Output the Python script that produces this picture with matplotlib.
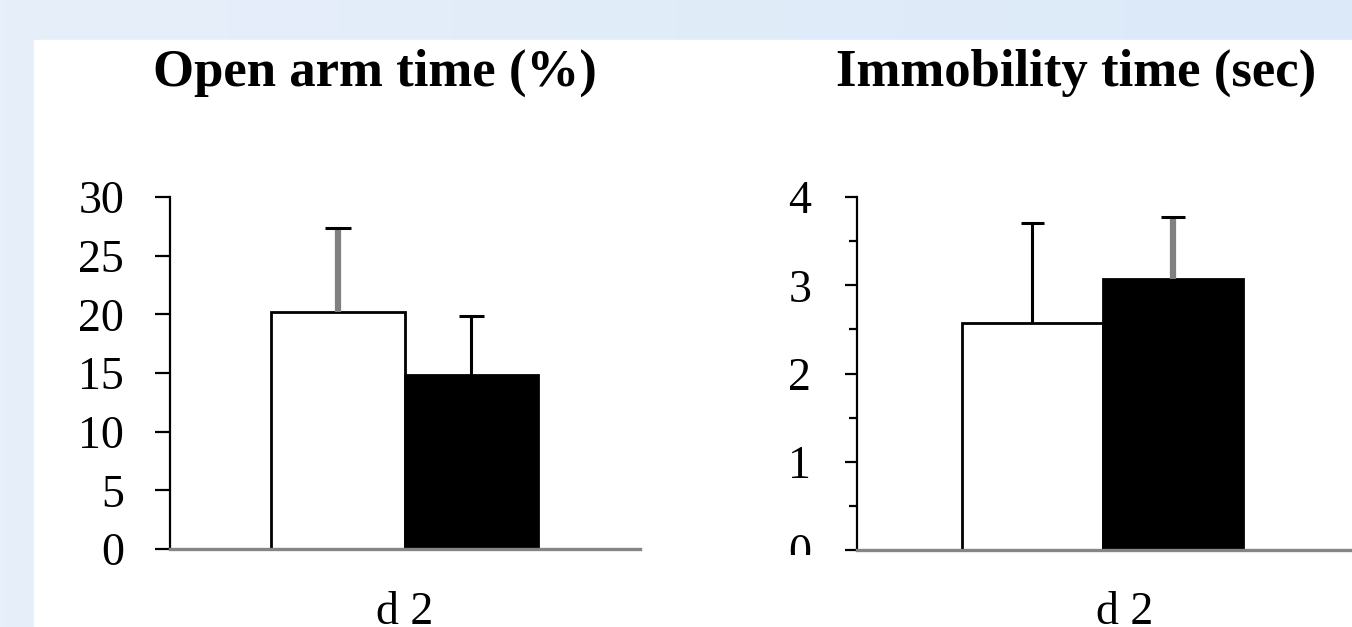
import numpy as np
import matplotlib.pyplot as plt
from matplotlib.patches import Rectangle
from matplotlib.transforms import Bbox

plt.rcParams['font.family'] = ['Liberation Serif', 'DejaVu Serif']

# group means and upper error (SEM) for day 2
groups = ["ctrl", "treated"]
open_arm = [20.2, 14.8]
open_arm_err = [7.2, 5.1]
immob = [2.57, 3.07]
immob_err = [1.14, 0.70]

bar_colors = ["white", "black"]

W, H = 1352, 627
fig = plt.figure(figsize=(W / 100, H / 100), dpi=100)

# pale blue slide background with a white card on top
bg = fig.add_axes([0, 0, 1, 1], zorder=-10)
grad = np.linspace(0, 1, 256)[None, :]
c0 = np.array([231, 239, 250]) / 255
c1 = np.array([219, 233, 248]) / 255
img = c0[None, None, :] * (1 - grad[..., None]) + c1[None, None, :] * grad[..., None]
bg.imshow(img, aspect="auto", extent=[0, 1, 0, 1])
bg.add_patch(Rectangle((34 / W, 0), 1, (H - 40) / H, color="white"))
bg.set_xlim(0, 1)
bg.set_ylim(0, 1)
bg.axis("off")


def px_axes(x0, x1, ytop, ybot):
    return fig.add_axes([x0 / W, (H - ybot) / H, (x1 - x0) / W, (ybot - ytop) / H])


def draw_panel(ax, vals, errs, stem_cols, stem_w, cap_w):
    x = np.arange(len(vals))
    ax.bar(x, vals, width=1.0, color=bar_colors, edgecolor="black", linewidth=2, zorder=2)
    for xi, v, e, sc, sw in zip(x, vals, errs, stem_cols, stem_w):
        ax.vlines(xi, v, v + e, color=sc, linewidth=sw, zorder=3)
        ax.hlines(v + e, xi - cap_w / 2, xi + cap_w / 2, color="black", linewidth=2.2, zorder=4)
    for s in ["top", "right"]:
        ax.spines[s].set_visible(False)
    ax.spines["left"].set_linewidth(1.6)
    ax.spines["bottom"].set_color("#858585")
    ax.spines["bottom"].set_linewidth(2.4)
    ax.set_xticks([])
    ax.tick_params(axis="y", labelsize=33, width=1.6, pad=22)
    ax.set_facecolor("none")


# left panel: open arm time
ax1 = px_axes(170, 640, 197, 549)
draw_panel(ax1, open_arm, open_arm_err, ["#808080", "black"], [4.5, 2.2], 0.19)
ax1.set_xlim(-1.258, 2.262)
ax1.set_ylim(0, 30)
ax1.set_yticks(np.arange(0, 31, 5))
ax1.tick_params(axis="y", length=11)

# right panel: immobility time
ax2 = px_axes(857, 1352, 197, 550)
draw_panel(ax2, immob, immob_err, ["black", "#808080"], [2.2, 4.5], 0.17)
ax2.set_xlim(-1.249, 2.274)
ax2.set_ylim(0, 4)
ax2.set_yticks(np.arange(0, 5, 1))
ax2.set_yticks(np.arange(0.5, 4, 1), minor=True)
ax2.tick_params(axis="y", which="major", length=9, pad=24)
ax2.tick_params(axis="y", which="minor", length=6, width=1.6)

fig.text(375 / W, 1 - 86 / H, "Open arm time (%)", fontsize=38, fontweight="bold",
         ha="center", va="baseline")
fig.text(1076 / W, 1 - 86 / H, "Immobility time (sec)", fontsize=38, fontweight="bold",
         ha="center", va="baseline")
fig.text(405 / W, 1 - 624 / H, "d 2", fontsize=33, ha="center", va="baseline")
fig.text(1125 / W, 1 - 624 / H, "d 2", fontsize=33, ha="center", va="baseline")

# the zero label of the right axis is cut along the bottom edge of the card
clip = Bbox.from_extents(0, H - 555, W, H)
for lbl in ax2.get_yticklabels():
    if lbl.get_text() in ("0", "−0", "0.0"):
        lbl.set_clip_box(clip)
        lbl.set_clip_on(True)

fig.savefig("out.png", dpi=100)
